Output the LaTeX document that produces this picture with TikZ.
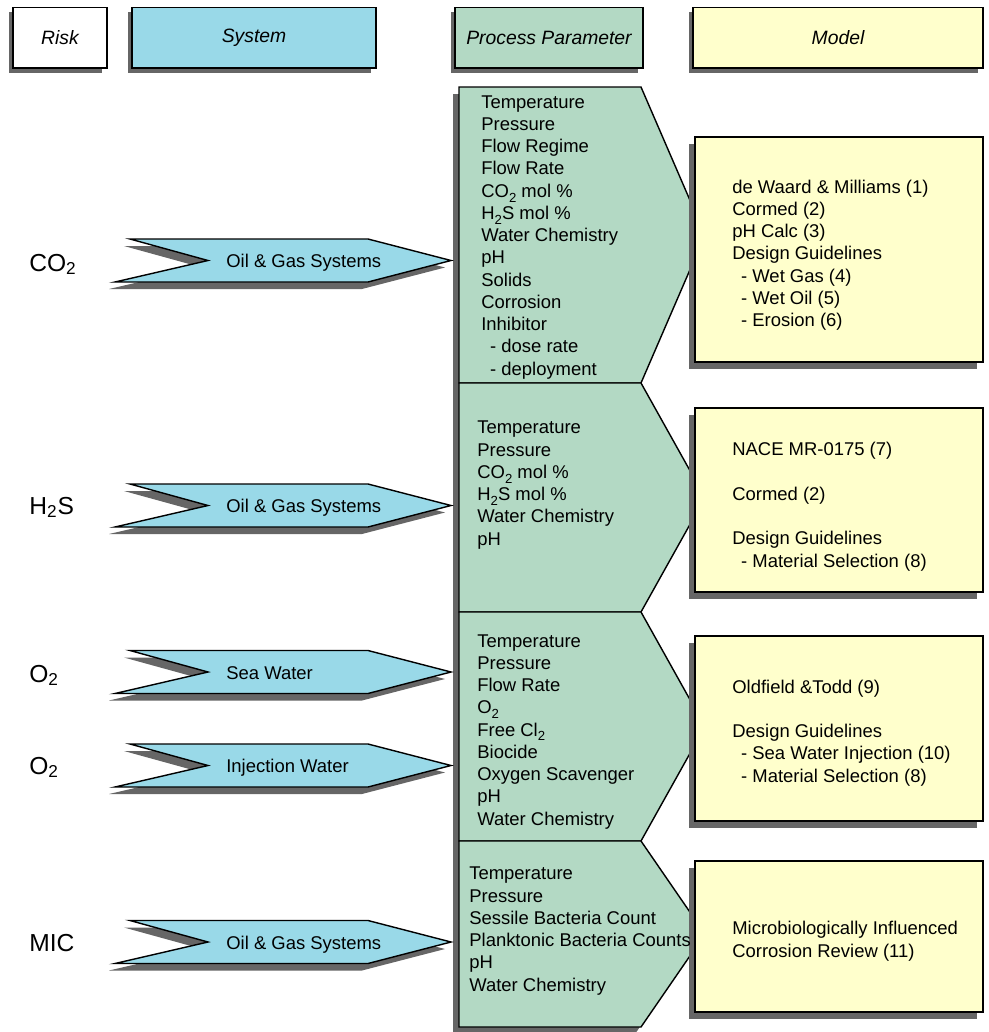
\documentclass[tikz,border=0pt]{standalone}
\usepackage{fontspec}
\setmainfont{Liberation Sans}
\usetikzlibrary{shadows}

\definecolor{sysblue}{RGB}{153,217,232}
\definecolor{pargreen}{RGB}{179,217,196}
\definecolor{modyellow}{RGB}{255,255,204}
\definecolor{shadowgray}{RGB}{102,102,102}
\newcommand{\dashitem}{\hspace*{5pt}- }
\newcommand{\lsub}[1]{\raisebox{-0.5ex}{\fontsize{7.5}{8}\selectfont #1}}

\begin{document}
\begin{tikzpicture}[x=0.02cm, y=-0.02cm,
    every node/.style={inner sep=0pt, font=\fontsize{10.5}{12.65}\selectfont},
    outline/.style={draw=black, line width=0.8pt},
    shadowed/.style={drop shadow={shadow xshift=-0.12cm, shadow yshift=-0.14cm, fill=shadowgray, opacity=1}},
    headbox/.style={outline, minimum height=1.22cm, font=\fontsize{11}{13}\selectfont\itshape,
        drop shadow={shadow xshift=-0.09cm, shadow yshift=-0.1cm, fill=shadowgray, opacity=1}},
    chevron/.style={outline, fill=sysblue, shadowed},
    plist/.style={anchor=base west, align=left},
    risklabel/.style={anchor=base west, font=\fontsize{14}{16}\selectfont}]
    \useasboundingbox (0,0) rectangle (989,1032);

    % column heads
    \node[headbox, fill=white, minimum width=1.88cm] (risk) at (60,37.7) {Risk};
    \node[headbox, fill=sysblue, minimum width=4.88cm] (system) at (254,37.7) {System};
    \node[headbox, fill=pargreen, minimum width=3.76cm] (param) at (549,37.7) {Process Parameter};
    \node[headbox, fill=modyellow, minimum width=5.8cm] (model) at (838,37.7) {Model};

    % process parameter column
    \foreach \ya/\yb in {87/383, 383/612, 612/841, 841/1027}
        \filldraw[outline, fill=pargreen, shadowed] (459,\ya) -- (641,\ya) -- (705,{(\ya+\yb)/2}) -- (641,\yb) -- (459,\yb) -- cycle;

    % model column
    \foreach \ya/\yb in {137/362, 408/592, 636/821, 861/1012}
        \filldraw[outline, fill=modyellow, shadowed] (695,\ya) rectangle (983,\yb);

    % systems
    \foreach \c/\sys [count=\i] in {260.5/Oil \& Gas Systems, 505.5/Oil \& Gas Systems,
            672/Sea Water, 765.5/Injection Water, 942/Oil \& Gas Systems} {
        \filldraw[chevron] (130,\c-21.5) -- (368,\c-21.5) -- (451,\c) -- (368,\c+21.5)
            -- (115,\c+21.5) -- (208,\c) -- cycle;
        \node[anchor=base west] (sys\i) at (226,\c+7) {\sys};
    }

    % risks
    \node[risklabel] (co2) at (29,271) {CO\textsubscript{2}};
    \node[risklabel] (h2s) at (29,514) {H\textsubscript{2}S};
    \node[risklabel] (o2sea) at (29,682) {O\textsubscript{2}};
    \node[risklabel] (o2inj) at (29,774) {O\textsubscript{2}};
    \node[risklabel] (mic) at (29,951) {MIC};

    % lists, placed at the baseline of their last line
    \node[plist] (par1) at (481,375) {Temperature\\Pressure\\Flow Regime\\Flow Rate\\
        CO\lsub{2} mol \%\\H\lsub{2}S mol \%\\Water Chemistry\\pH\\Solids\\
        Corrosion\\Inhibitor\\\dashitem dose rate\\\dashitem deployment};
    \node[plist] (par2) at (477,545) {Temperature\\Pressure\\CO\lsub{2} mol \%\\
        H\lsub{2}S mol \%\\Water Chemistry\\pH};
    \node[plist] (par3) at (477,825) {Temperature\\Pressure\\Flow Rate\\O\lsub{2}\\
        Free Cl\lsub{2}\\Biocide\\Oxygen Scavenger\\pH\\Water Chemistry};
    \node[plist] (par4) at (469,991) {Temperature\\Pressure\\Sessile Bacteria Count\\
        Planktonic Bacteria Counts\\pH\\Water Chemistry};

    \node[plist] (mod1) at (732,326.5) {de Waard \& Milliams (1)\\Cormed (2)\\pH Calc (3)\\
        Design Guidelines\\\dashitem Wet Gas (4)\\\dashitem Wet Oil (5)\\\dashitem Erosion (6)};
    \node[plist] (mod2) at (732,567) {NACE MR-0175 (7)\\[12.65pt]Cormed (2)\\[12.65pt]
        Design Guidelines\\\dashitem Material Selection (8)};
    \node[plist] (mod3) at (732,782) {Oldfield \&Todd (9)\\[12.65pt]Design Guidelines\\
        \dashitem Sea Water Injection (10)\\\dashitem Material Selection (8)};
    \node[plist] (mod4) at (732,957) {Microbiologically Influenced\\Corrosion Review (11)};
\end{tikzpicture}
\end{document}
